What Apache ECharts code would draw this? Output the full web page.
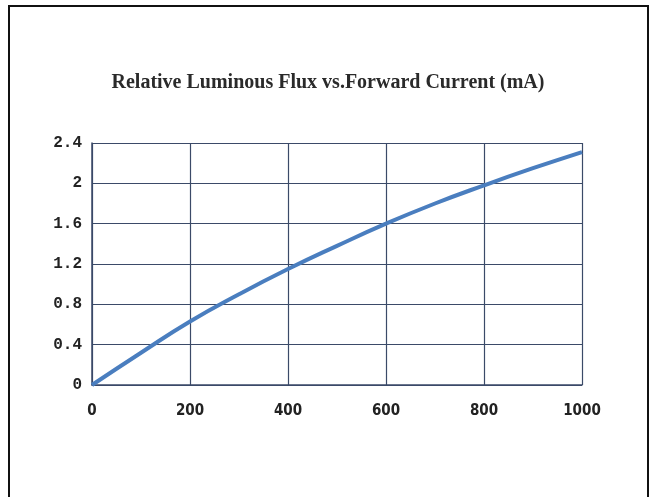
<!DOCTYPE html>
<html>
<head>
<meta charset="utf-8">
<script src="https://cdn.jsdelivr.net/npm/echarts@6/dist/echarts.min.js"></script>
<style>
  html, body { margin: 0; padding: 0; background: #fff; }
  #frame {
    position: absolute; left: 8px; top: 5px; width: 641px; height: 500px;
    border: 2px solid #111; box-sizing: border-box;
  }
  #chart { position: absolute; left: 0; top: 0; width: 656px; height: 497px; }
</style>
</head>
<body>
<div id="frame"></div>
<div id="chart"></div>
<script>
const title = 'Relative Luminous Flux vs.Forward Current (mA)';
const currents = [0, 100, 200, 300, 400, 500, 600, 700, 800, 900, 1000];
const fluxValues = [0, 0.32, 0.63, 0.9, 1.15, 1.38, 1.6, 1.8, 1.98, 2.15, 2.31];

const gridColor = '#3b4a68';
const chart = echarts.init(document.getElementById('chart'));

chart.setOption({
  animation: false,
  title: {
    text: title,
    left: 'center',
    top: 68,
    textStyle: {
      fontFamily: 'Liberation Serif',
      fontWeight: 'bold',
      fontSize: 20,
      color: '#2a2a2a',
    },
  },
  grid: { left: 92, top: 143, width: 490, height: 242 },
  xAxis: {
    type: 'value',
    min: 0,
    max: 1000,
    interval: 200,
    axisLine: { show: true, lineStyle: { color: gridColor, width: 1.5 } },
    axisTick: { show: false },
    splitLine: { show: true, lineStyle: { color: gridColor, width: 1.2 } },
    axisLabel: {
      margin: 19,
      formatter: (v) => String(v),
      fontFamily: 'DejaVu Sans Condensed',
      fontWeight: 'bold',
      fontSize: 15,
      color: '#222',
    },
  },
  yAxis: {
    type: 'value',
    min: 0,
    max: 2.4,
    interval: 0.4,
    axisLine: { show: true, lineStyle: { color: gridColor, width: 1.5 } },
    axisTick: { show: false },
    splitLine: { show: true, lineStyle: { color: gridColor, width: 1.2 } },
    axisLabel: {
      margin: 10,
      fontFamily: 'Liberation Mono',
      fontWeight: 'bold',
      fontSize: 16,
      color: '#222',
    },
  },
  series: [
    {
      type: 'line',
      data: currents.map((c, i) => [c, fluxValues[i]]),
      smooth: true,
      showSymbol: false,
      lineStyle: { color: '#4a7ebf', width: 4 },
    },
  ],
});
</script>
</body>
</html>
